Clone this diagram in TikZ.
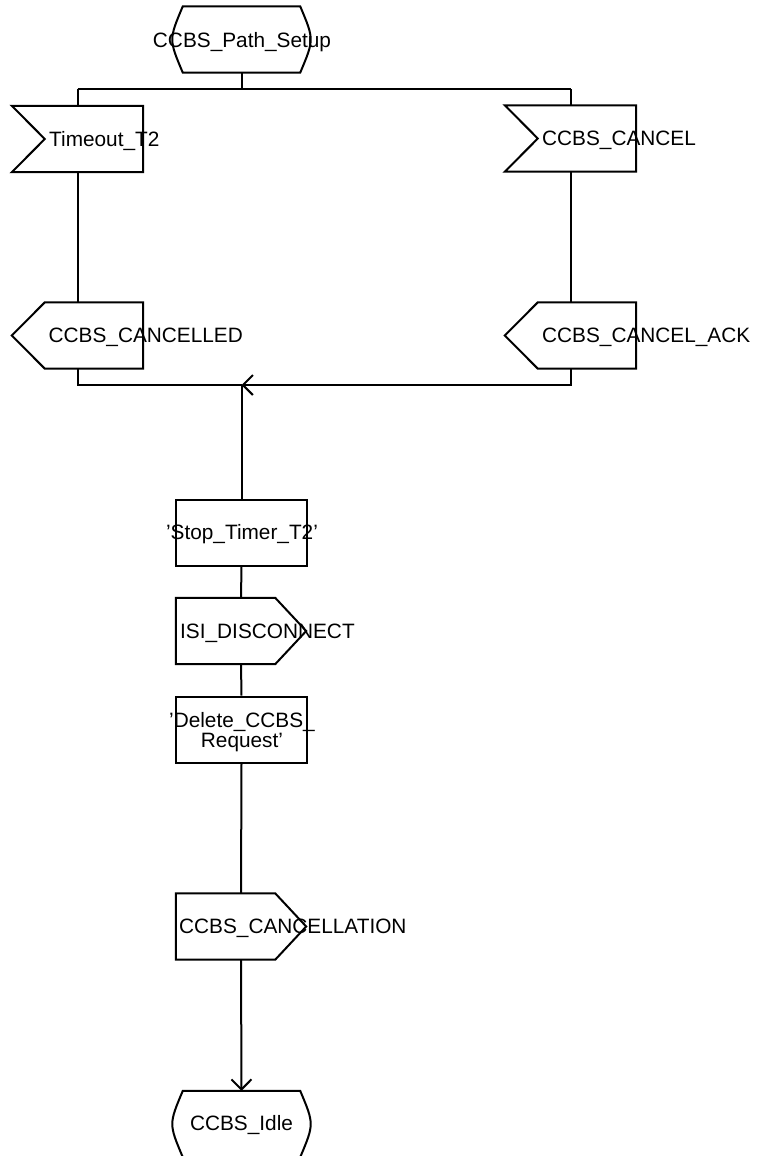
\documentclass[tikz,border=0pt]{standalone}
\usepackage{fontspec}
\setmainfont{Liberation Sans}
\usetikzlibrary{arrows.meta, positioning}

\tikzset{
  line/.style={line width=2pt},
  sdl/.style={inner sep=0pt, minimum width=131pt, minimum height=66pt},
  statebox/.style={sdl, append after command={\pgfextra{\draw[line]
    ([xshift=7pt]\tikzlastnode.north west) -- ([xshift=-7pt]\tikzlastnode.north east)
    .. controls ([xshift=7pt]\tikzlastnode.east) .. ([xshift=-7pt]\tikzlastnode.south east)
    -- ([xshift=7pt]\tikzlastnode.south west)
    .. controls ([xshift=-7pt]\tikzlastnode.west) .. ([xshift=7pt]\tikzlastnode.north west) -- cycle;}}},
  taskbox/.style={sdl, draw, line},
  inbox/.style={sdl, append after command={\pgfextra{\draw[line]
    (\tikzlastnode.north west) -- (\tikzlastnode.north east) -- (\tikzlastnode.south east)
    -- (\tikzlastnode.south west) -- ([xshift=33pt]\tikzlastnode.west) -- cycle;}}},
  outbox/.style={sdl, append after command={\pgfextra{\draw[line]
    ([xshift=33pt]\tikzlastnode.north west) -- (\tikzlastnode.north east) -- (\tikzlastnode.south east)
    -- ([xshift=33pt]\tikzlastnode.south west) -- (\tikzlastnode.west) -- cycle;}}},
  sendbox/.style={sdl, minimum width=130pt, append after command={\pgfextra{\draw[line]
    (\tikzlastnode.north west) -- ([xshift=-31pt]\tikzlastnode.north east) -- (\tikzlastnode.east)
    -- ([xshift=-31pt]\tikzlastnode.south east) -- (\tikzlastnode.south west) -- cycle;}}},
  txt/.style={font=\fontsize{20.8pt}{20pt}\selectfont, inner sep=0pt, align=center},
  tip/.style={-{Straight Barb[length=10pt,width=20pt,line width=2pt]}}
}

\begin{document}
\begin{tikzpicture}[x=1pt,y=-1pt]
\useasboundingbox (0,0) rectangle (757,1156);
\clip (0,0) rectangle (757,1156);

\node[statebox] (setup) at (241.5,39.5) {};
\node[inbox] (tmo) at (77.5,139) {};
\node[inbox] (cancel) at (570.5,138.5) {};
\node[outbox] (cancelled) at (77.5,335.5) {};
\node[outbox] (ack) at (570.5,335.5) {};
\node[taskbox] (stop) at (241.5,532.5) {};
\node[sendbox] (isi) at (241,631) {};
\node[taskbox] (del) at (241.5,729.5) {};
\node[sendbox] (canc) at (241,926.5) {};
\node[statebox] (idle) at (241.5,1124) {};

\node[txt] (setup-t) at (242,42) {CCBS\_Path\_Setup};
\node[txt, anchor=west] (tmo-t) at (49,141) {Timeout\_T2};
\node[txt, anchor=west] (cancel-t) at (542,140.5) {CCBS\_CANCEL};
\node[txt, anchor=west] (cancelled-t) at (48.5,337.5) {CCBS\_CANCELLED};
\node[txt, anchor=west] (ack-t) at (542,337.5) {CCBS\_CANCEL\_ACK};
\node[txt] (stop-t) at (242,534.5) {'Stop\_Timer\_T2'};
\node[txt, anchor=west] (isi-t) at (180,633) {ISI\_DISCONNECT};
\node[txt] (del-t) at (242,732) {'Delete\_CCBS\_\\Request'};
\node[txt, anchor=west] (canc-t) at (179,928.5) {CCBS\_CANCELLATION};
\node[txt] (idle-t) at (241.5,1125) {CCBS\_Idle};

\coordinate (split) at (241.5,89);
\coordinate (splitL) at (77.5,89);
\coordinate (splitR) at (570.5,89);
\coordinate (merge) at (241.5,385);
\coordinate (mergeL) at (77.5,385);
\coordinate (mergeR) at (570.5,385);

\draw[line] (setup.south) -- (split);
\draw[line] (splitL) -- (splitR);
\draw[line] (splitL) -- (tmo.north);
\draw[line] (splitR) -- (cancel.north);
\draw[line] (tmo.south) -- (cancelled.north);
\draw[line] (cancel.south) -- (ack.north);
\draw[line] (cancelled.south) -- (mergeL) -- (merge);
\draw[line, tip] (ack.south) -- (mergeR) -- (merge);
\draw[line] (merge) -- (stop.north);
\draw[line] (stop.south) -- (isi.north);
\draw[line] (isi.south) -- (del.north);
\draw[line] (del.south) -- (canc.north);
\draw[line, tip] (canc.south) -- (idle.north);
\end{tikzpicture}
\end{document}
